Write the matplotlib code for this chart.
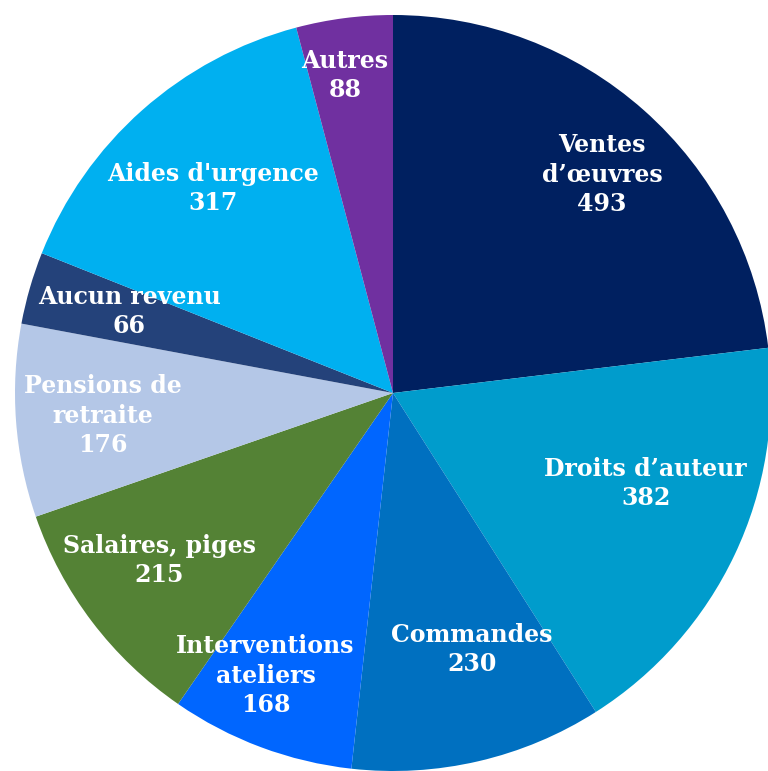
import numpy as np
import matplotlib
matplotlib.use("Agg")
import matplotlib.pyplot as plt

# =============================================================================
# DATA
# =============================================================================
labels = ["Ventes\nd\u2019\u0153uvres", "Droits d\u2019auteur", "Commandes",
          "Interventions\nateliers", "Salaires, piges", "Pensions de\nretraite",
          "Aucun revenu", "Aides d'urgence", "Autres"]
values = [493, 382, 230, 168, 215, 176, 66, 317, 88]
colors = ["#002060", "#009CCC", "#0070C0", "#0066FF", "#548235",
          "#B4C7E7", "#24427A", "#00B0F0", "#7030A0"]

# label placement (fraction of radius, angle shift in degrees)
label_r = [0.80, 0.71, 0.71, 0.82, 0.76, 0.77, 0.73, 0.72, 0.85]
label_shift = [-2.2, 5.6, 4.1, -3.8, -1.6, 0.2, -1.1, -0.2, 1.2]

# =============================================================================
# FIGURE
# =============================================================================
W, H, R = 768, 771, 378
cx, cy = 393, 393  # pie centre in pixels from top-left

fig = plt.figure(figsize=(W / 100, H / 100), dpi=100)
ax = fig.add_axes([0, 0, 1, 1])

wedges, _ = ax.pie(values, colors=colors, startangle=90, counterclock=False,
                   radius=1.0, wedgeprops=dict(linewidth=0))

for w, lab, v, r, sh in zip(wedges, labels, values, label_r, label_shift):
    mid = np.deg2rad((w.theta1 + w.theta2) / 2 + sh)
    ax.text(r * np.cos(mid), r * np.sin(mid), lab + "\n" + str(v),
            ha="center", va="center", color="white", fontsize=17,
            fontweight="bold", family="DejaVu Serif", linespacing=1.27)

# limits after pie(), which sets its own
ax.set_xlim(-cx / R, (W - cx) / R)
ax.set_ylim(-(H - cy) / R, cy / R)
ax.set_aspect("equal")
ax.axis("off")

fig.savefig("out.png", dpi=100)
